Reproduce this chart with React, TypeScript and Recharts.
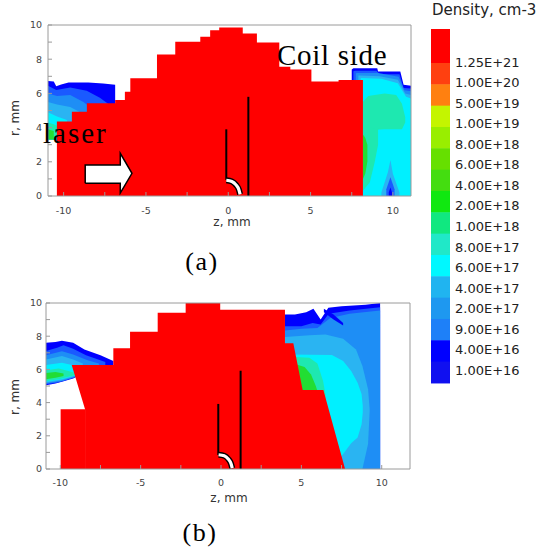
import React from 'react';
import { ComposedChart, Area, Line, XAxis, YAxis, ReferenceLine } from 'recharts';

// colour levels of the density contour map
const DB = '#0000ff';
const B1 = '#1a5aff';
const B2 = '#1e8ef5';
const B3 = '#2ab4f2';
const CY = '#00f0ff';
const MT = '#1ee8b0';
const GR = '#22dd33';
const RED = '#ff0000';

// rows are [z, rLow, rHigh] in mm
// ---- panel (a) ----
const aRed = [
  [-10.41, 0, 4.35], [-9.5, 0, 4.35], [-9.5, 0, 4.93], [-8.59, 0, 4.93], [-8.59, 0, 5.42],
  [-6.87, 0, 5.42], [-6.87, 0, 5.62], [-6.28, 0, 5.62], [-6.28, 0, 6.1], [-5.95, 0, 6.1],
  [-5.95, 0, 6.88], [-4.33, 0, 6.88], [-4.33, 0, 8.28], [-3.22, 0, 8.28], [-3.22, 0, 9.02],
  [-1.7, 0, 9.02], [-1.7, 0, 9.32], [-1.1, 0, 9.32], [-1.1, 0, 9.7], [-0.55, 0, 9.7],
  [-0.55, 0, 9.85], [0.88, 0, 9.85], [0.88, 0, 9.5], [1.74, 0, 9.5], [1.74, 0, 8.98],
  [3.1, 0, 8.98], [3.1, 0, 7.56], [3.77, 0, 7.56], [3.77, 0, 7.4], [5.05, 0, 7.4],
  [5.05, 0, 6.69], [6.7, 0, 6.69], [6.7, 0, 6.78], [8.18, 0, 6.78],
];
const aLeftDark = [[-10.95, 3.3, 6.72], [-10.6, 3.3, 6.7], [-10.45, 3.3, 6.42], [-10.15, 3.3, 6.52], [-9.7, 3.3, 6.64], [-8.5, 3.3, 6.64], [-7.6, 3.3, 6.58], [-6.87, 3.3, 6.5]];
const aLeftB1 = [[-10.95, 3.3, 6.45], [-10.45, 3.3, 6.2], [-9.6, 3.3, 6.35], [-8.6, 3.3, 6.15], [-7.8, 3.3, 5.75], [-7.3, 3.3, 5.4]];
const aLeftB2 = [[-10.95, 3.3, 6.0], [-10.4, 3.3, 5.85], [-9.6, 3.3, 5.9], [-8.8, 3.3, 5.5], [-8.4, 3.3, 5.2]];
const aLeftB3 = [[-10.95, 3.3, 5.5], [-10.4, 3.3, 5.35], [-9.6, 3.3, 5.2], [-9.0, 3.3, 4.9]];
const aLeftCy = [[-10.95, 3.3, 4.9], [-10.4, 3.3, 4.65], [-9.8, 3.3, 4.45]];
const aLeftMt = [[-10.95, 3.3, 4.3], [-10.6, 3.3, 4.2], [-10.3, 3.3, 4.05]];
const aLeftGr = [[-10.95, 3.3, 3.9], [-10.6, 3.3, 3.8]];

const aRightDark = [[7.5, 6.5, 7.4], [7.6, 0, 7.47], [9.05, 0, 7.47], [9.1, 0, 7.28], [10.45, 0, 7.28], [10.65, 0, 6.5], [11.1, 0, 6.45]];
const aRightB1 = [[7.6, 6.5, 7.3], [7.7, 0, 7.33], [9.0, 0, 7.33], [9.2, 0, 7.12], [10.4, 0, 7.12], [10.65, 0, 6.32], [11.1, 0, 6.28]];
const aRightB2 = [[7.75, 6.5, 7.18], [7.85, 0, 7.2], [9.1, 0, 7.2], [10.35, 0, 6.98], [10.7, 0, 6.18], [11.1, 0, 6.12]];
const aRightB3 = [[7.9, 6.5, 7.05], [8.0, 0, 7.05], [9.2, 0, 7.0], [10.3, 0, 6.8], [10.75, 0, 6.0], [11.1, 0, 5.9]];
const aRightCy = [[8.05, 0, 6.9], [9.3, 0, 6.85], [10.3, 0, 6.6], [10.8, 0, 5.8], [11.1, 0, 5.7]];
const aRightMtBlob = [[8.18, 3.8, 5.5], [8.5, 3.85, 5.85], [9.5, 3.9, 6.0], [10.2, 3.9, 5.9], [10.55, 3.9, 5.4], [10.75, 4.3, 4.6]];
const aRightMtStrip = [[8.18, 0.3, 4.0], [8.6, 0.8, 4.0], [8.9, 2.0, 3.95], [9.1, 3.0, 3.95]];
const aRightGr = [[8.18, 1.0, 3.6], [8.32, 1.3, 3.4], [8.45, 2.0, 3.0]];
const aSpikeB3 = [[9.3, 0, 0.2], [9.7, 0, 1.4], [9.85, 0, 2.1], [10.0, 0, 1.3], [10.4, 0, 0.2]];
const aSpikeB1 = [[9.6, 0, 0.4], [9.85, 0, 1.1], [10.1, 0, 0.4]];
const aSpikeDark = [[9.75, 0, 0.2], [9.85, 0, 0.5], [9.95, 0, 0.2]];

const aArrowFill = [[-8.69, 0.74, 1.81], [-6.56, 0.74, 1.81], [-6.56, 0.17, 2.5], [-5.85, 1.33, 1.33]];
const aArrowEdge = [[-8.69, 0.74], [-8.69, 1.81], [-6.56, 1.81], [-6.56, 2.5], [-5.85, 1.33], [-6.56, 0.17], [-6.56, 0.74], [-8.69, 0.74]];
const aProbes = [[[-0.12, 0.94], [-0.12, 3.9]], [[1.22, 0], [1.22, 5.8]]];
const aArc = [[-0.12, 0.92], [0.22, 0.85], [0.47, 0.65], [0.64, 0.38], [0.72, 0.1]];

// ---- panel (b) ----
const bRedLow = [[-9.98, 0, 3.6], [-8.46, 0, 3.6]];
const bRed = [
  [-9.29, 6.27, 6.27], [-8.46, 3.6, 6.27], [-8.46, 0, 6.27], [-6.7, 0, 6.27], [-6.7, 0, 7.27],
  [-5.66, 0, 7.27], [-5.66, 0, 8.27], [-3.94, 0, 8.27], [-3.94, 0, 9.42], [-2.2, 0, 9.42],
  [-2.2, 0, 10], [-0.05, 0, 10], [-0.05, 0, 9.6], [3.98, 0, 9.6], [3.98, 0, 7.57],
  [4.5, 0, 7.57], [5.08, 0, 4.76], [6.37, 0, 4.76], [7.72, 0, 0],
];
const bLeftDark = [[-10.9, 5.05, 7.6], [-10.3, 5.15, 7.65], [-9.9, 5.25, 7.73], [-9.2, 5.45, 7.6], [-8.5, 5.8, 7.2], [-7.5, 6.1, 6.85], [-6.7, 6.2, 6.5]];
const bLeftB1 = [[-10.9, 5.1, 7.1], [-10.2, 5.2, 7.3], [-9.8, 5.3, 7.45], [-9.2, 5.5, 7.25], [-8.4, 5.85, 6.85], [-7.2, 6.15, 6.45]];
const bLeftB2 = [[-10.9, 5.15, 6.85], [-9.9, 5.3, 7.1], [-9.2, 5.5, 6.9], [-8.3, 5.9, 6.55], [-7.6, 6.1, 6.35]];
const bLeftB3 = [[-10.9, 5.2, 6.6], [-9.9, 5.35, 6.8], [-9.2, 5.55, 6.6], [-8.6, 5.8, 6.35]];
const bLeftCy = [[-10.9, 5.25, 6.27], [-9.9, 5.4, 6.4], [-9.2, 5.6, 6.25], [-8.8, 5.75, 6.1]];
const bLeftMt = [[-10.9, 5.3, 5.95], [-10.1, 5.4, 6.05], [-9.5, 5.55, 5.9], [-9.1, 5.65, 5.8]];
const bLeftGr = [[-10.9, 5.4, 5.78], [-10.3, 5.5, 5.85], [-9.8, 5.6, 5.75]];

const bRightDark = [[3.98, 0, 9.3], [4.6, 0, 9.3], [5.3, 0, 9.45], [5.75, 0, 9.65], [6.2, 0, 9.0], [6.68, 0, 9.72], [7.5, 0, 9.8], [9.0, 0, 9.9], [9.9, 0, 10.0]];
const bRightB1 = [[3.98, 0, 8.6], [5.0, 0, 8.6], [5.7, 0, 8.8], [6.2, 0, 8.7], [6.7, 0, 9.35], [8.0, 0, 9.55], [9.9, 0, 9.75]];
const bRightB2 = [[3.98, 0, 8.35], [5.0, 0, 8.45], [6.0, 0, 8.5], [6.8, 0, 9.1], [8.0, 0, 9.35], [9.9, 0, 9.55]];
const bStreak = [[6.4, 9.45, 9.65], [7.0, 9.0, 9.3], [7.6, 8.65, 8.8]];
const bRightB3 = [[3.98, 0, 7.95], [5.5, 0, 8.05], [6.5, 0, 8.1], [7.6, 0, 7.85], [8.4, 0, 7.2], [8.8, 0, 6.2], [9.15, 1.5, 4.8], [9.25, 3.5, 3.6]];
const bRightCy = [[4.3, 0, 6.9], [6.9, 0, 6.87], [7.6, 0.9, 6.5], [8.1, 1.55, 5.9], [8.5, 1.9, 5.2], [8.75, 2.7, 4.5], [8.82, 3.4, 3.8]];
const bRightMt = [[4.6, 0, 6.75], [5.5, 0, 6.7], [6.0, 0, 6.35], [6.35, 0, 5.3], [6.5, 0, 4.5]];
const bRightGr = [[4.7, 0, 6.3], [5.2, 0, 6.15], [5.6, 0, 5.7], [5.9, 0, 5.0], [6.0, 0, 4.7]];

const bProbes = [[[-0.17, 0.84], [-0.17, 3.92]], [[1.22, 0], [1.22, 5.92]]];
const bArc = [[-0.15, 0.86], [0.2, 0.8], [0.45, 0.6], [0.62, 0.33], [0.7, 0.05]];

// axes
const zTicks = [-10, -7.5, -5, -2.5, 0, 2.5, 5, 7.5, 10];
const rTicksLeft = [0, 1, 2, 3, 4, 5, 6, 7, 8, 9, 10];
const rTicksRight = [0, 2, 4, 6, 8, 10];

// colour bar
const legendLabels = [
  '1.25E+21', '1.00E+20', '5.00E+19', '1.00E+19', '8.00E+18', '6.00E+18', '4.00E+18', '2.00E+18',
  '1.00E+18', '8.00E+17', '6.00E+17', '4.00E+17', '2.00E+17', '9.00E+16', '4.00E+16', '1.00E+16',
];
const legendColors = [
  '#ff0000', '#ff4010', '#ff8010', '#c4f500', '#99ee00', '#66e000', '#44dd10', '#10e810',
  '#10e880', '#20e8c8', '#00f8ff', '#20b4f0', '#1e98f0', '#1e80f8', '#0000ff', '#1010f0',
];

type Band = { rows: number[][]; fill: string };

const aBands: Band[] = [
  { rows: aLeftDark, fill: DB }, { rows: aLeftB1, fill: B1 }, { rows: aLeftB2, fill: B2 },
  { rows: aLeftB3, fill: B3 }, { rows: aLeftCy, fill: CY }, { rows: aLeftMt, fill: MT }, { rows: aLeftGr, fill: GR },
  { rows: aRightDark, fill: DB }, { rows: aRightB1, fill: B1 }, { rows: aRightB2, fill: B2 },
  { rows: aRightB3, fill: B3 }, { rows: aRightCy, fill: CY }, { rows: aRightMtBlob, fill: MT },
  { rows: aRightMtStrip, fill: MT }, { rows: aRightGr, fill: GR },
  { rows: aSpikeB3, fill: B3 }, { rows: aSpikeB1, fill: B1 }, { rows: aSpikeDark, fill: DB },
  { rows: aRed, fill: RED },
];

const bBands: Band[] = [
  { rows: bLeftDark, fill: DB }, { rows: bLeftB1, fill: B1 }, { rows: bLeftB2, fill: B2 },
  { rows: bLeftB3, fill: B3 }, { rows: bLeftCy, fill: CY }, { rows: bLeftMt, fill: MT }, { rows: bLeftGr, fill: GR },
  { rows: bRightDark, fill: DB }, { rows: bRightB1, fill: B1 }, { rows: bRightB2, fill: B2 },
  { rows: bStreak, fill: DB }, { rows: bRightB3, fill: B3 }, { rows: bRightCy, fill: CY },
  { rows: bRightMt, fill: MT }, { rows: bRightGr, fill: GR },
  { rows: bRedLow, fill: RED }, { rows: bRed, fill: RED },
];

const toRange = (rows: number[][]) => rows.map(([z, lo, hi]) => ({ z, r: [lo, hi] }));
const toPts = (rows: number[][]) => rows.map(([z, r]) => ({ z, r }));

const frame = '#9a9a9a';
const tickFont = { fontSize: 9.5, fill: '#444', fontFamily: 'DejaVu Sans, sans-serif' };

interface PanelProps {
  height: number;
  margin: { top: number; right: number; bottom: number; left: number };
  xDomain: [number, number];
  bands: Band[];
  probes: number[][][];
  arc: number[][];
  arrowFill?: number[][];
  arrowEdge?: number[][];
  xTickMargin: number;
  yTickMargin: number;
}

function Panel(p: PanelProps) {
  return (
    <ComposedChart width={545} height={p.height} margin={p.margin}>
      {p.bands.map((b, i) => (
        <Area
          key={'band' + i}
          data={toRange(b.rows)}
          dataKey="r"
          type="linear"
          fill={b.fill}
          fillOpacity={1}
          stroke="none"
          dot={false}
          activeDot={false}
          isAnimationActive={false}
        />
      ))}
      {p.arrowFill && (
        <Area data={toRange(p.arrowFill)} dataKey="r" type="linear" fill="#fff" fillOpacity={1}
          stroke="none" dot={false} activeDot={false} isAnimationActive={false} />
      )}
      {p.arrowEdge && (
        <Line data={toPts(p.arrowEdge)} dataKey="r" type="linear" stroke="#000" strokeWidth={1.5}
          dot={false} activeDot={false} isAnimationActive={false} />
      )}
      {p.probes.map((s, i) => (
        <ReferenceLine
          key={'probe' + i}
          segment={[{ x: s[0][0], y: s[0][1] }, { x: s[1][0], y: s[1][1] }]}
          stroke="#000"
          strokeWidth={2}
        />
      ))}
      <Line data={toPts(p.arc)} dataKey="r" type="monotone" stroke="#000" strokeWidth={6}
        dot={false} activeDot={false} isAnimationActive={false} />
      <Line data={toPts(p.arc)} dataKey="r" type="monotone" stroke="#fff" strokeWidth={3.2}
        dot={false} activeDot={false} isAnimationActive={false} />
      <XAxis
        type="number" dataKey="z" domain={p.xDomain} allowDataOverflow ticks={zTicks} interval={0}
        tickFormatter={(v: number) => (v % 5 === 0 ? String(v) : '')}
        height={1} tickSize={-4} tickMargin={p.xTickMargin}
        axisLine={{ stroke: frame }} tickLine={{ stroke: frame }} tick={tickFont}
      />
      <XAxis
        xAxisId="top" orientation="top" type="number" domain={p.xDomain} allowDataOverflow
        ticks={zTicks} interval={0} height={1} tickSize={-4} tick={false}
        axisLine={{ stroke: frame }} tickLine={{ stroke: frame }}
      />
      <YAxis
        type="number" domain={[0, 10]} allowDataOverflow ticks={rTicksLeft} interval={0}
        tickFormatter={(v: number) => (v % 2 === 0 ? String(v) : '')}
        width={1} tickSize={-4} tickMargin={p.yTickMargin}
        axisLine={{ stroke: frame }} tickLine={{ stroke: frame }} tick={tickFont}
      />
      <YAxis
        yAxisId="right" orientation="right" type="number" domain={[0, 10]} allowDataOverflow
        ticks={rTicksRight} interval={0} width={1} tickSize={-4} tick={false}
        axisLine={{ stroke: frame }} tickLine={{ stroke: frame }}
      />
    </ComposedChart>
  );
}

const serif = 'Liberation Serif, Times New Roman, serif';
const sans = 'DejaVu Sans, sans-serif';

export default function App() {
  const barTop = 29;
  const firstH = 34;
  const segH = 21.33;
  return (
    <div style={{ position: 'absolute', left: 0, top: 0, width: 545, height: 551, background: '#fff', overflow: 'hidden' }}>
      <div style={{ position: 'absolute', left: 0, top: 0 }}>
        <Panel
          height={240}
          margin={{ top: 24, right: 133, bottom: 43, left: 47 }}
          xDomain={[-10.95, 11.1]}
          bands={aBands}
          probes={aProbes}
          arc={aArc}
          arrowFill={aArrowFill}
          arrowEdge={aArrowEdge}
          xTickMargin={15}
          yTickMargin={10}
        />
      </div>
      <div style={{ position: 'absolute', left: 0, top: 280 }}>
        <Panel
          height={240}
          margin={{ top: 22, right: 134, bottom: 50, left: 45 }}
          xDomain={[-10.89, 11.76]}
          bands={bBands}
          probes={bProbes}
          arc={bArc}
          xTickMargin={14.5}
          yTickMargin={8}
        />
      </div>
      <svg width={545} height={551} style={{ position: 'absolute', left: 0, top: 0, pointerEvents: 'none' }}>
        <text x={43} y={143} fontFamily={serif} fontSize={29} letterSpacing={2} fill="#000">laser</text>
        <text x={277} y={65} fontFamily={serif} fontSize={29} letterSpacing={0.7} fill="#000">Coil side</text>
        <text x={202} y={270} fontFamily={serif} fontSize={26} letterSpacing={1.5} textAnchor="middle" fill="#000">(a)</text>
        <text x={200} y={541} fontFamily={serif} fontSize={26} letterSpacing={1.5} textAnchor="middle" fill="#000">(b)</text>

        <text x={232} y={226} fontFamily={sans} fontSize={12} textAnchor="middle" fill="#333">z, mm</text>
        <text x={229} y={502} fontFamily={sans} fontSize={12} textAnchor="middle" fill="#333">z, mm</text>
        <text x={15} y={118} fontFamily={sans} fontSize={12} textAnchor="middle" dominantBaseline="central"
          transform="rotate(-90 15 118)" fill="#333">r, mm</text>
        <text x={15} y={397} fontFamily={sans} fontSize={12} textAnchor="middle" dominantBaseline="central"
          transform="rotate(-90 15 397)" fill="#333">r, mm</text>

        <text x={432} y={14.5} fontFamily={sans} fontSize={15} fill="#222">Density, cm-3</text>
        {legendColors.map((c, i) => (
          <rect
            key={'seg' + i}
            x={431}
            y={i === 0 ? barTop : barTop + firstH + (i - 1) * segH}
            width={19}
            height={i === 0 ? firstH : segH + 0.5}
            fill={c}
          />
        ))}
        {legendLabels.map((t, i) => (
          <text key={'lab' + i} x={455} y={62 + i * 20.57} fontFamily={sans} fontSize={13}
            dominantBaseline="central" fill="#222">{t}</text>
        ))}
      </svg>
    </div>
  );
}
